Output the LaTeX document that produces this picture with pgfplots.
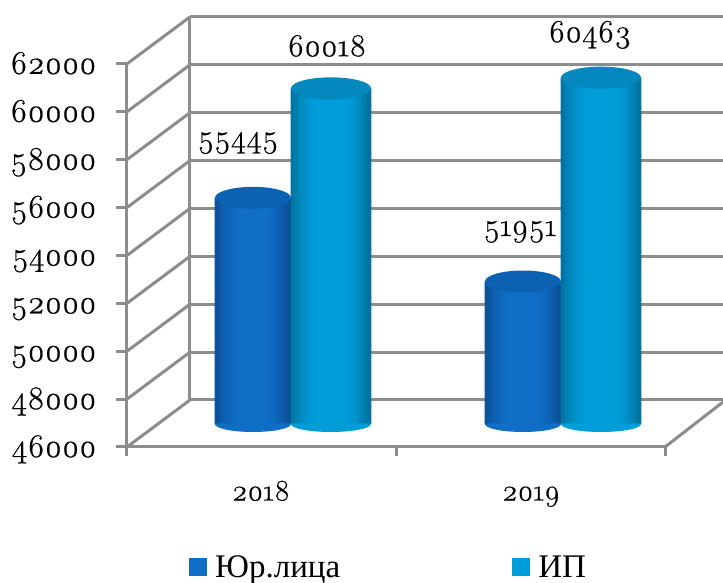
\documentclass[border=0pt]{standalone}
\usepackage{fontspec}
\usepackage{pgfplots}
\pgfplotsset{compat=1.18}
\setmainfont{Liberation Serif}
\newfontfamily\numfont{Latin Modern Roman}[Numbers=OldStyle,FakeBold=0.6]

\definecolor{gridgray}{HTML}{8C8C8C}
\definecolor{juredge}{HTML}{0A4F96}
\definecolor{jurmid}{HTML}{0F6FC6}
\definecolor{jurtop}{HTML}{0C62B2}
\definecolor{ipedge}{HTML}{05719C}
\definecolor{ipmid}{HTML}{009DD9}
\definecolor{iptop}{HTML}{0488BE}

\pgfdeclarehorizontalshading{jurfootshade}{100bp}{color(0bp)=(juredge); color(25bp)=(jurmid); color(75bp)=(jurmid); color(100bp)=(juredge)}
\pgfdeclarehorizontalshading{ipfootshade}{100bp}{color(0bp)=(ipedge); color(25bp)=(ipmid); color(75bp)=(ipmid); color(100bp)=(ipedge)}

% cylinder caps, feet are only the lower half
\pgfdeclareplotmark{jurcap}{\pgfsetfillcolor{jurtop}\pgfpathellipse{\pgfpointorigin}{\pgfqpoint{38pt}{0pt}}{\pgfqpoint{0pt}{11pt}}\pgfusepathqfill}
\pgfdeclareplotmark{ipcap}{\pgfsetfillcolor{iptop}\pgfpathellipse{\pgfpointorigin}{\pgfqpoint{40pt}{0pt}}{\pgfqpoint{0pt}{11pt}}\pgfusepathqfill}
\pgfdeclareplotmark{jurfoot}{\pgfpathmoveto{\pgfqpoint{-38pt}{0.5pt}}\pgfpathlineto{\pgfqpoint{-38pt}{0pt}}\pgfpatharc{180}{360}{38pt and 8pt}\pgfpathlineto{\pgfqpoint{38pt}{0.5pt}}\pgfpathclose\pgfshadepath{jurfootshade}{0}\pgfusepath{discard}}
\pgfdeclareplotmark{ipfoot}{\pgfpathmoveto{\pgfqpoint{-40pt}{0.5pt}}\pgfpathlineto{\pgfqpoint{-40pt}{0pt}}\pgfpatharc{180}{360}{40pt and 8pt}\pgfpathlineto{\pgfqpoint{40pt}{0.5pt}}\pgfpathclose\pgfshadepath{ipfootshade}{0}\pgfusepath{discard}}

% one vertical strip of a cylinder body: shift, share of the mid colour
\newcommand\jurstrip[2]{\addplot[ybar,bar width=4.6pt,bar shift=#1pt,draw=none,fill=jurmid!#2!juredge,forget plot,xshift=-8pt,yshift=23pt]
    coordinates {(261,55445) (531,51951)};}
\newcommand\ipstrip[2]{\addplot[ybar,bar width=4.6pt,bar shift=#1pt,draw=none,fill=ipmid!#2!ipedge,forget plot,xshift=70pt,yshift=23pt]
    coordinates {(261,60018) (531,60463)};}

\begin{document}
\begin{tikzpicture}
\begin{axis}[
    scale only axis,
    width=596pt, height=431pt,
    xmin=127, xmax=723,
    ymin=46000, ymax=64000,
    clip=false,
    axis line style={draw=none},
    xtick={261,531},
    xticklabels={2018,2019},
    ytick={46000,48000,50000,52000,54000,56000,58000,60000,62000},
    scaled y ticks=false,
    /pgf/number format/fixed,
    /pgf/number format/1000 sep={},
    /pgf/number format/assume math mode=true,
    major tick length=0pt,
    tick label style={text=black},
    yticklabel style={font=\numfont\fontsize{33}{35}\selectfont,text height=20pt,text depth=6pt,xshift=-27pt,yshift=-3pt},
    xticklabel style={font=\numfont\fontsize{30}{32}\selectfont,text height=20pt,text depth=6pt,yshift=-30pt},
    legend columns=2,
    legend style={at={(59pt,-136pt)},anchor=south west,draw=none,fill=none,
        font=\fontsize{33}{35}\selectfont,/tikz/every even column/.append style={column sep=170pt}},
    legend image code/.code={\fill[#1] (0pt,-9pt) rectangle (18pt,9pt);\path (24pt,0pt);},
]
% walls and floor
\pgfplotsinvokeforeach{46000,48000,50000,52000,54000,56000,58000,60000,62000}{
    \addplot[gridgray,line width=3pt,forget plot,yshift=47pt] coordinates {(190,#1) (723,#1)};
    \draw[gridgray,line width=3pt] (axis cs:127,#1) -- ++(63pt,47pt);
    \draw[gridgray,line width=3pt] (axis cs:127,#1) -- ++(-11pt,0pt);
}
\addplot[gridgray,line width=3pt,forget plot] coordinates {(127,46000) (127,62000)};
\addplot[gridgray,line width=3pt,forget plot,yshift=47pt] coordinates {(190,46000) (190,62000)};
\addplot[gridgray,line width=3pt,forget plot] coordinates {(127,46000) (665,46000)};
\draw[gridgray,line width=3pt] (axis cs:665,46000) -- ++(58pt,45pt);
\draw[gridgray,line width=3pt] (axis cs:127,46000) -- ++(0pt,-9pt);
\draw[gridgray,line width=3pt] (axis cs:396,46000) -- ++(0pt,-9pt);
\draw[gridgray,line width=3pt] (axis cs:665,46000) -- ++(0pt,-9pt);

% Jur. persons
\addplot[only marks,mark=jurfoot,forget plot,xshift=-8pt,yshift=23pt] coordinates {(261,46000) (531,46000)};
\jurstrip{-36}{10}\jurstrip{-32}{35}\jurstrip{-28}{55}\jurstrip{-24}{70}\jurstrip{-20}{85}
\jurstrip{-16}{95}\jurstrip{-12}{100}\jurstrip{-8}{100}\jurstrip{-4}{100}\jurstrip{0}{100}
\jurstrip{4}{100}\jurstrip{8}{100}\jurstrip{12}{100}\jurstrip{16}{95}\jurstrip{20}{85}
\jurstrip{24}{70}\jurstrip{28}{50}\jurstrip{32}{30}\jurstrip{36}{5}
\addplot[only marks,mark=jurcap,forget plot,xshift=-8pt,yshift=23pt] coordinates {(261,55445) (531,51951)};
% IP
\addplot[only marks,mark=ipfoot,forget plot,xshift=70pt,yshift=23pt] coordinates {(261,46000) (531,46000)};
\ipstrip{-38}{10}\ipstrip{-34}{35}\ipstrip{-30}{55}\ipstrip{-26}{70}\ipstrip{-22}{85}
\ipstrip{-18}{95}\ipstrip{-14}{100}\ipstrip{-10}{100}\ipstrip{-6}{100}\ipstrip{-2}{100}
\ipstrip{2}{100}\ipstrip{6}{100}\ipstrip{10}{100}\ipstrip{14}{100}\ipstrip{18}{95}
\ipstrip{22}{85}\ipstrip{26}{70}\ipstrip{30}{50}\ipstrip{34}{30}\ipstrip{38}{5}
\addplot[only marks,mark=ipcap,forget plot,xshift=70pt,yshift=23pt] coordinates {(261,60018) (531,60463)};

% value labels
\node[font=\numfont\fontsize{32}{34}\selectfont] at (axis cs:238,58698) {55445};
\node[font=\numfont\fontsize{32}{34}\selectfont] at (axis cs:327,62750) {60018};
\node[font=\numfont\fontsize{32}{34}\selectfont] at (axis cs:520,54981) {51951};
\node[font=\numfont\fontsize{32}{34}\selectfont] at (axis cs:590,63210) {60463};

\addlegendimage{fill=jurmid,draw=none}
\addlegendentry{Юр.лица}
\addlegendimage{fill=ipmid,draw=none}
\addlegendentry{ИП}
\end{axis}
\pgfresetboundingbox
\useasboundingbox (-127pt,-136pt) rectangle (596pt,447pt);
\end{tikzpicture}
\end{document}
